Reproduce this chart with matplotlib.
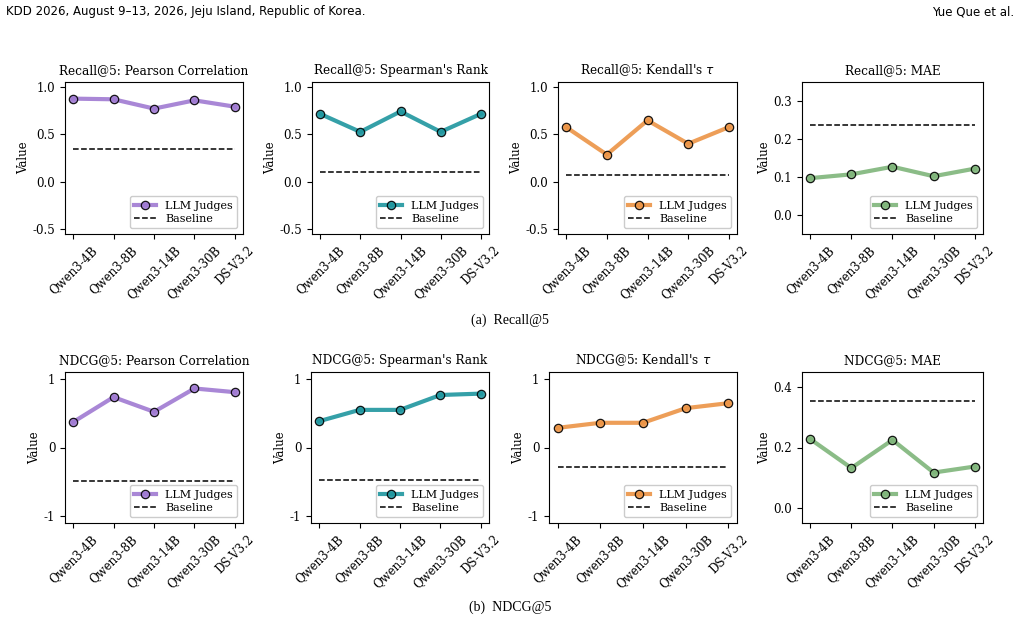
import numpy as np
import matplotlib
matplotlib.use('Agg')
import matplotlib.pyplot as plt

plt.rcParams['font.family'] = 'DejaVu Serif'

models = ['Qwen3-4B', 'Qwen3-8B', 'Qwen3-14B', 'Qwen3-30B', 'DS-V3.2']
metrics = ['Pearson Correlation', "Spearman's Rank", "Kendall's $\\tau$", 'MAE']
colors = ['#a07ad2', '#1f969f', '#ec9446', '#7fb57a']

recall_pearson = [0.875, 0.868, 0.77, 0.857, 0.79]
recall_spearman = [0.715, 0.525, 0.74, 0.525, 0.715]
recall_kendall = [0.575, 0.286, 0.646, 0.40, 0.575]
recall_mae = [0.097, 0.107, 0.127, 0.102, 0.122]
recall_base = [0.34, 0.098, 0.07, 0.236]

ndcg_pearson = [0.37, 0.734, 0.52, 0.86, 0.806]
ndcg_spearman = [0.383, 0.548, 0.548, 0.765, 0.785]
ndcg_kendall = [0.286, 0.36, 0.36, 0.573, 0.646]
ndcg_mae = [0.228, 0.132, 0.225, 0.117, 0.137]
ndcg_base = [-0.487, -0.48, -0.277, 0.354]

fig = plt.figure(figsize=(10.2, 6.21), dpi=100)
W, H = 1020.0, 621.0


def panel(left, top, right, bottom, vals, base, color, title, ylim, yticks, ylabels):
    ax = fig.add_axes([left / W, 1 - bottom / H, (right - left) / W, (bottom - top) / H])
    x = np.arange(len(models))
    ax.plot(x, vals, color=color, lw=3, alpha=0.9, marker='o', markersize=6,
            markerfacecolor=color, markeredgecolor='black', markeredgewidth=0.9,
            label='LLM Judges')
    ax.plot([x[0], x[-1]], [base, base], color='black', ls='--', lw=1.1, label='Baseline')
    ax.set_xlim(-0.2, 4.2)
    ax.set_ylim(*ylim)
    ax.set_yticks(yticks)
    ax.set_yticklabels(ylabels, fontsize=8.5)
    ax.set_xticks(x)
    ax.set_xticklabels(models, rotation=45, fontsize=8.5, ha='center')
    ax.set_ylabel('Value', fontsize=8.5, labelpad=2)
    ax.set_title(title, fontsize=8.7)
    ax.legend(loc='lower right', fontsize=8, framealpha=1, edgecolor='#cccccc',
              handlelength=2.0, borderpad=0.4, labelspacing=0.3)
    return ax


row1 = [recall_pearson, recall_spearman, recall_kendall, recall_mae]
row2 = [ndcg_pearson, ndcg_spearman, ndcg_kendall, ndcg_mae]

lefts1 = [65, 312, 558, 802]
rights1 = [243, 489, 737, 983]
lefts2 = [65, 311, 549, 802]
rights2 = [243, 489, 737, 983]

for i in range(4):
    if i < 3:
        ylim = (-0.55, 1.05)
        yt = [-0.5, 0.0, 0.5, 1.0]
        yl = ['-0.5', '0.0', '0.5', '1.0']
    else:
        ylim = (-0.05, 0.35)
        yt = [0.0, 0.1, 0.2, 0.3]
        yl = ['0.0', '0.1', '0.2', '0.3']
    panel(lefts1[i], 82, rights1[i], 234, row1[i], recall_base[i], colors[i],
          'Recall@5: ' + metrics[i], ylim, yt, yl)

for i in range(4):
    if i < 3:
        ylim = (-1.1, 1.1)
        yt = [-1, 0, 1]
        yl = ['-1', '0', '1']
    else:
        ylim = (-0.05, 0.45)
        yt = [0.0, 0.2, 0.4]
        yl = ['0.0', '0.2', '0.4']
    panel(lefts2[i], 372, rights2[i], 523, row2[i], ndcg_base[i], colors[i],
          'NDCG@5: ' + metrics[i], ylim, yt, yl)

fig.text(6 / W, 1 - 12 / H, 'KDD 2026, August 9\u201313, 2026, Jeju Island, Republic of Korea.',
         family=['Liberation Sans Narrow', 'DejaVu Sans'], fontsize=8.5, va='center', ha='left')
fig.text(1014 / W, 1 - 12 / H, 'Yue Que et al.',
         family=['Liberation Sans Narrow', 'DejaVu Sans'], fontsize=8.5, va='center', ha='right')
fig.text(510 / W, 1 - 320 / H, '(a)  Recall@5', family=['Liberation Serif'], fontsize=10,
         ha='center', va='center')
fig.text(510 / W, 1 - 607 / H, '(b)  NDCG@5', family=['Liberation Serif'], fontsize=10,
         ha='center', va='center')

fig.savefig('out.png', dpi=100)
